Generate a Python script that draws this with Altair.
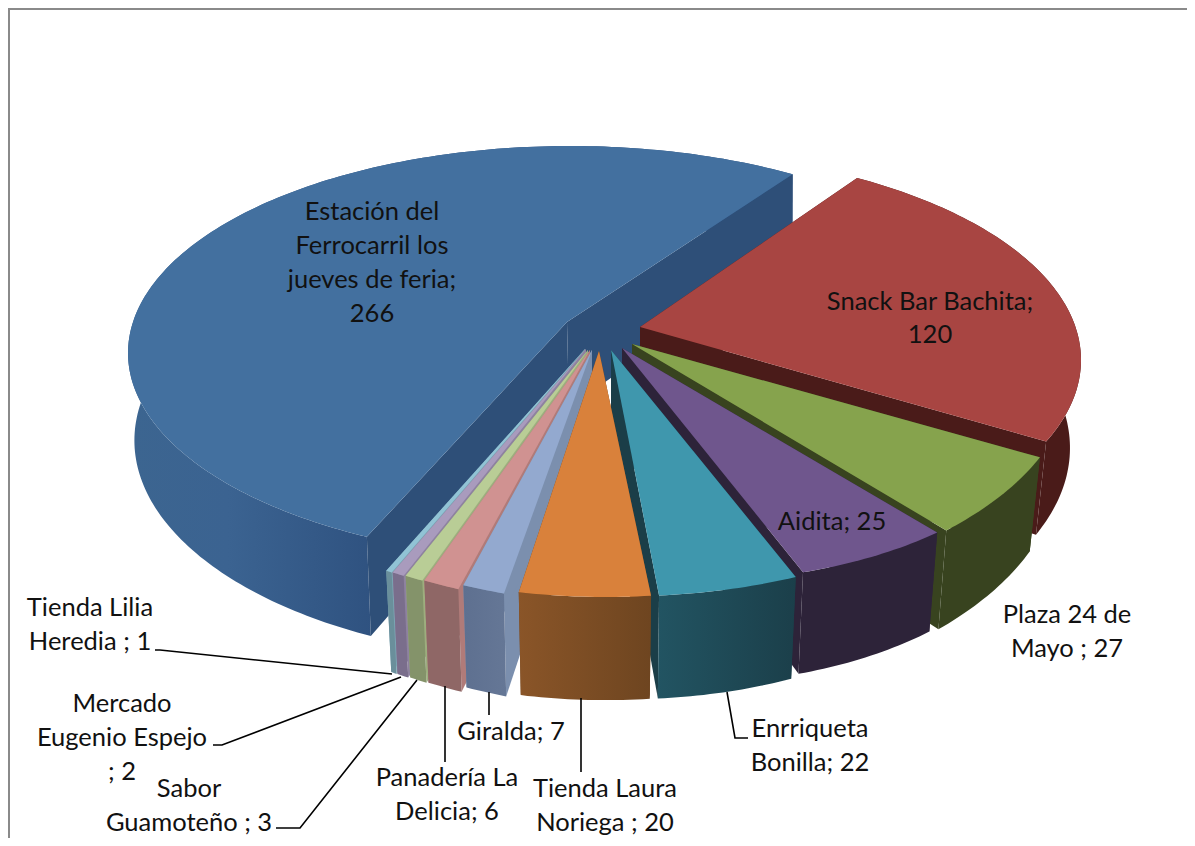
import math
import altair as alt
import pandas as pd

labels = ["Estación del Ferrocarril los jueves de feria", "Snack Bar Bachita", "Plaza 24 de Mayo",
          "Aidita", "Enrriqueta Bonilla", "Tienda Laura Noriega", "Giralda", "Panadería La Delicia",
          "Sabor Guamoteño", "Mercado Eugenio Espejo", "Tienda Lilia Heredia"]
values = [266, 120, 27, 25, 22, 20, 7, 6, 3, 2, 1]
tops = ["#43709f", "#a84542", "#86a34d", "#6f568d", "#3f97ad", "#d9813b", "#93a9cf", "#d09291", "#b9cd96", "#a99bbd", "#91c3d5"]
walls = ["#2e4f78", "#4a1b19", "#38431f", "#2d2339", "#1b3e48", "#6e4520", "#7b8fae", "#b07b79", "#9dae7e", "#8e82a0", "#7ba5b4"]
sides = [
    [("#3c6590", 0), ("#3b6391", 0.15), ("#2f5280", 0.37), ("#2f5280", 1)],
    [("#4a1b19", 0), ("#4a1b19", 1)],
    [("#38431f", 0), ("#38431f", 1)],
    [("#2d2339", 0), ("#2d2339", 1)],
    [("#225462", 0), ("#1b3f4a", 1)],
    [("#8a5528", 0), ("#6e4520", 1)],
    [("#5e7090", 0), ("#657796", 1)],
    [("#8f6766", 0), ("#8f6766", 1)],
    [("#84936a", 0), ("#84936a", 1)],
    [("#7a6e8c", 0), ("#7a6e8c", 1)],
    [("#6a8f9b", 0), ("#6a8f9b", 1)],
]

# layout of each exploded slice: apex, arc centre, radii, rotation, angular stretch, shear, wall shrink, wall x offset
layout = [
    ((567, 322), (570, 353), 442, 207, -2.15, 0.953, 0.0, 0.99, 2),
    ((640, 327), (641, 360), 440, 209, -9, 0.965, 0.0, 0.975, 0),
    ((632, 344), (632, 373), 440, 225, -10, 1.15, 0.0, 0.975, 0),
    ((622, 348), (622, 350), 440, 230, -7, 1.19, 0.07, 0.975, 0),
    ((611, 350), (610, 364), 430, 232, -5, 1.2, 0.02, 0.975, 0),
    ((599, 351), (606, 360), 440, 237, -1.3, 1.2, 0.0, 0.975, 0),
    ((592, 350), (597, 346), 475, 259, 0, 1, 0.07, 0.975, 0),
    ((590, 350), (592, 350), 475, 259, 0, 1, 0.07, 0.975, 0),
    ((588, 350), (590, 350), 475, 259, 0, 1, 0.07, 0.975, 0),
    ((586, 349), (588, 350), 475, 259, 0, 1, 0.07, 0.975, 0),
    ((585, 349), (587, 350), 475, 259, 0, 1, 0.07, 0.975, 0),
]
draw_order = [0, 1, 2, 3, 10, 9, 8, 7, 6, 4, 5]
first_angle = 205

text_lines = [
    ("Estación del", 372, 212), ("Ferrocarril los", 372, 246), ("jueves de feria;", 372, 280), ("266", 372, 314),
    ("Snack Bar Bachita;", 930, 302), ("120", 930, 335),
    ("Aidita; 25", 832, 522),
    ("Plaza 24 de", 1067, 615), ("Mayo ; 27", 1067, 649),
    ("Enrriqueta", 810, 729), ("Bonilla; 22", 810, 763),
    ("Tienda Laura", 605, 789), ("Noriega ; 20", 605, 823),
    ("Giralda; 7", 511, 732),
    ("Panadería La", 447, 778), ("Delicia; 6", 447, 812),
    ("Sabor", 189, 789), ("Guamoteño ; 3", 189, 823),
    ("Mercado", 122, 704), ("Eugenio Espejo", 122, 738), ("; 2", 122, 772),
    ("Tienda Lilia", 90, 608), ("Heredia ; 1", 90, 642),
]
leaders = [
    [(155, 650), (160, 650), (392, 674)],
    [(213, 745), (222, 745), (401, 677)],
    [(276, 828), (300, 828), (417, 680)],
    [(445, 686), (445, 762)],
    [(489, 692), (489, 715)],
    [(581, 698), (581, 772)],
    [(727, 692), (735, 738), (748, 738)],
]
frame = [(1187, 9), (9, 9), (9, 838)]

X = alt.X("x:Q", axis=None, scale=alt.Scale(domain=[8, 1187], range=[0, 1179], nice=False, zero=False))
Y = alt.Y("y:Q", axis=None, scale=alt.Scale(domain=[8, 838], range=[0, 830], nice=False, zero=False))


def polygon(points, fill):
    pts = [{"x": float(p[0]), "y": float(p[1]), "i": n} for n, p in enumerate(points)]
    return alt.Chart(pd.DataFrame(pts)).mark_line(fill=fill, strokeWidth=0, interpolate="linear").encode(
        x=X, y=Y, order=alt.Order("i:Q"))


def polyline(points, color, width):
    pts = [{"x": float(p[0]), "y": float(p[1]), "i": n} for n, p in enumerate(points)]
    return alt.Chart(pd.DataFrame(pts)).mark_line(color=color, strokeWidth=width, interpolate="linear").encode(
        x=X, y=Y, order=alt.Order("i:Q"))


def drop(p, apex_x, shrink, off):
    h = 76 + (p[1] - 175) * 27 / 420
    return (apex_x + (p[0] - apex_x) * shrink + off, p[1] + h)


total = sum(values)
spans = []
a = first_angle
for v in values:
    spans.append((a, a + v / total * 360))
    a += v / total * 360

layers = []
for idx in draw_order:
    (apex, centre, rx, ry, rot, stretch, shear, shrink, off) = layout[idx]
    a0, a1 = spans[idx]
    mid = (a0 + a1) / 2
    n = max(2, int(abs(a1 - a0) * stretch) + 2)
    arc = []
    for j in range(n + 1):
        th = a0 + (a1 - a0) * j / n
        t = math.radians(mid + (th - mid) * stretch + rot)
        wx, wy = math.sin(t), -math.cos(t)
        arc.append((centre[0] + rx * wx, centre[1] + ry * wy + shear * rx * wx))
    low = [drop(p, apex[0], shrink, off) for p in arc]
    apex_low = (apex[0] + off, apex[1] + 76 + (apex[1] - 175) * 27 / 420)
    grad = alt.LinearGradient(gradient="linear", x1=0, x2=1, y1=0, y2=0,
                              stops=[alt.GradientStop(color=c, offset=o) for c, o in sides[idx]])
    outer = polygon(arc + low[::-1], grad)
    wall_a = polygon([apex, arc[0], low[0], apex_low], walls[idx])
    wall_b = polygon([apex, arc[-1], low[-1], apex_low], walls[idx])
    if idx == 0:
        layers += [outer, wall_a, wall_b]
    else:
        layers += [wall_a, wall_b, outer]
    layers.append(polygon([apex] + arc, tops[idx]))

for line in leaders:
    layers.append(polyline(line, "#000000", 1.6))
layers.append(polyline(frame, "#8a8a8a", 2))

text_df = pd.DataFrame([{"t": t, "x": x, "y": y} for t, x, y in text_lines])
layers.append(alt.Chart(text_df).mark_text(font="Lato", fontSize=25.5, color="#111111", align="center", baseline="middle").encode(
    x=X, y=Y, text="t:N"))

chart = alt.layer(*layers).properties(width=1179, height=830, padding=0, autosize=alt.AutoSizeParams(type="none")).configure_view(stroke=None)
chart.save("out.html", embed_options={"renderer": "svg", "actions": False})
